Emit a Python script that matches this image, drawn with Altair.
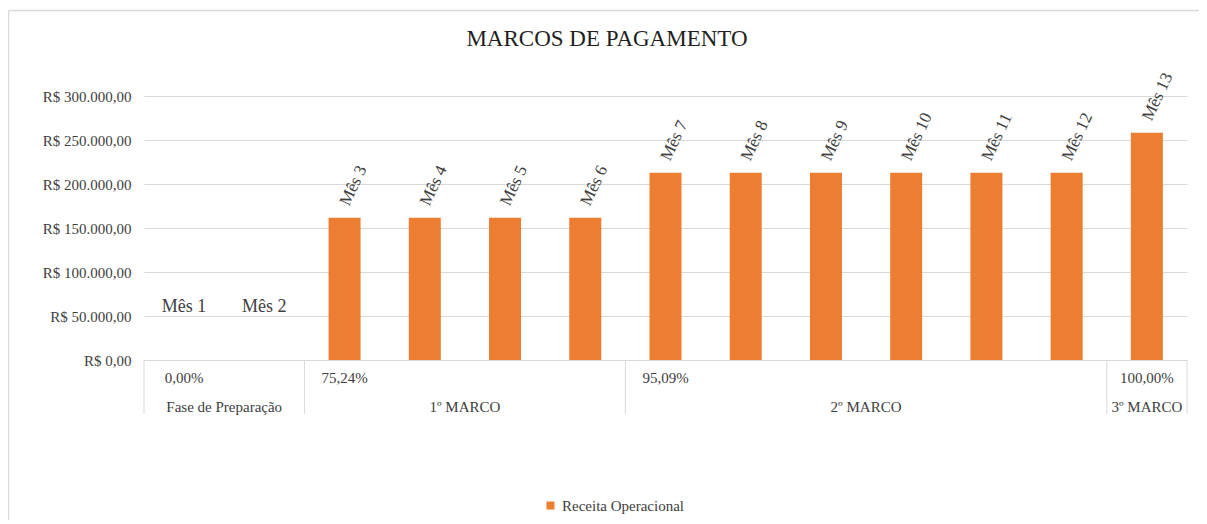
import altair as alt
import pandas as pd

# ---- data ----
titulo = "MARCOS DE PAGAMENTO"
serie = "Receita Operacional"
meses = ["Mês 1", "Mês 2", "Mês 3", "Mês 4", "Mês 5", "Mês 6", "Mês 7",
         "Mês 8", "Mês 9", "Mês 10", "Mês 11", "Mês 12", "Mês 13"]
valores = [0, 0, 161700, 161700, 161700, 161700, 212800, 212800, 212800,
           212800, 212800, 212800, 258300]
grupos = ["Fase de Preparação", "1º MARCO", "2º MARCO", "3º MARCO"]
grupo_inicio = [1, 3, 7, 13]
grupo_fim = [2, 6, 12, 13]
percentuais = ["0,00%", "75,24%", "95,09%", "100,00%"]
y_ticks = [0, 50000, 100000, 150000, 200000, 250000, 300000]

# ---- tables built from the arrays ----
df_bars = pd.DataFrame({
    "mes": meses,
    "valor": valores,
    "idx": list(range(1, len(meses) + 1)),
    "serie": [serie] * len(meses),
})
df_groups = pd.DataFrame({
    "grupo": grupos,
    "inicio": grupo_inicio,
    "fim": grupo_fim,
    "pct": percentuais,
})
df_sep = pd.DataFrame({"pos": [i - 0.5 for i in grupo_inicio] + [grupo_fim[-1] + 0.5]})
df_title = pd.DataFrame({"t": [titulo]})
df_one = pd.DataFrame({"k": [0]})

FONT = "Liberation Serif"
TXT = "#404040"
GRID = "#d9d9d9"
ORANGE = "#ED7D31"

xs = alt.Scale(domain=[0.5, len(meses) + 0.5], nice=False, zero=False, padding=0)
ys = alt.Scale(domain=[0, 300000], nice=False)

# Brazilian currency format: R$ 300.000,00
label_expr = ("'R$ ' + (datum.value == 0 ? '0' : "
              "format(floor(datum.value / 1000), 'd') + '.' + "
              "format(datum.value % 1000, '03d')) + ',00'")

bars = alt.Chart(df_bars).mark_bar(width=32).encode(
    x=alt.X("idx:Q", scale=xs, axis=None),
    y=alt.Y("valor:Q", scale=ys, title=None,
            axis=alt.Axis(values=y_ticks, labelExpr=label_expr, labelFont=FONT,
                          labelFontSize=15, labelColor=TXT, labelPadding=13,
                          ticks=False, domain=False, gridColor=GRID, gridWidth=1)),
    color=alt.Color("serie:N", scale=alt.Scale(domain=[serie], range=[ORANGE]),
                    legend=alt.Legend(title=None, orient="none", legendX=399, legendY=402,
                                      symbolType="square", symbolSize=64,
                                      symbolStrokeWidth=0, labelFont=FONT,
                                      labelFontSize=15, labelColor=TXT, padding=0)),
)

rot_labels = alt.Chart(df_bars).transform_filter("datum.valor > 0").transform_calculate(
    ly="datum.valor + 14800"
).mark_text(angle=295, align="left", baseline="middle", font=FONT, fontSize=17,
            color=TXT).encode(
    x=alt.X("idx:Q", scale=xs, axis=None),
    y=alt.Y("ly:Q", scale=ys),
    text="mes:N",
)

zero_labels = alt.Chart(df_bars).transform_filter("datum.valor == 0").mark_text(
    align="center", baseline="middle", dy=-53, font=FONT, fontSize=18, color=TXT
).encode(
    x=alt.X("idx:Q", scale=xs, axis=None),
    y=alt.Y("valor:Q", scale=ys),
    text="mes:N",
)

pct_labels = alt.Chart(df_groups).mark_text(
    align="center", baseline="alphabetic", font=FONT, fontSize=15, color=TXT
).encode(
    x=alt.X("inicio:Q", scale=xs, axis=None),
    y=alt.value(286.7),
    text="pct:N",
)

grp_labels = alt.Chart(df_groups).transform_calculate(
    centro="(datum.inicio + datum.fim) / 2"
).mark_text(
    align="center", baseline="alphabetic", font=FONT, fontSize=15, color=TXT
).encode(
    x=alt.X("centro:Q", scale=xs, axis=None),
    y=alt.value(315.7),
    text="grupo:N",
)

seps = alt.Chart(df_sep).mark_rule(color=GRID, strokeWidth=1).encode(
    x=alt.X("pos:Q", scale=xs, axis=None),
    y=alt.value(264),
    y2=alt.value(318),
)

base_line = alt.Chart(df_one).mark_rule(color=GRID, strokeWidth=1).encode(
    x=alt.value(0), x2=alt.value(1043), y=alt.value(264.5),
)

# outer chart frame (top and left edges; the others lie outside the picture)
frame_top = alt.Chart(df_one).mark_rule(color=GRID, strokeWidth=1.3).encode(
    x=alt.value(-135.5), x2=alt.value(1300), y=alt.value(-85.5),
)
frame_left = alt.Chart(df_one).mark_rule(color=GRID, strokeWidth=1.3).encode(
    x=alt.value(-135.5), y=alt.value(-85.5), y2=alt.value(600),
)

title_mark = alt.Chart(df_title).mark_text(
    align="center", baseline="alphabetic", font=FONT, fontSize=23, color="#1f1f1f"
).encode(
    x=alt.value(463), y=alt.value(-50), text="t:N",
)

chart = alt.layer(bars, frame_top, frame_left, seps, base_line, rot_labels, zero_labels,
                  pct_labels, grp_labels, title_mark).properties(
    width=1043,
    height=264,
    padding={"left": 136, "top": 88, "right": 12, "bottom": 160},
    autosize=alt.AutoSizeParams(type="none"),
    background="white",
).configure_view(strokeWidth=0)

chart.save("out.html", embed_options={"renderer": "svg", "actions": False})
